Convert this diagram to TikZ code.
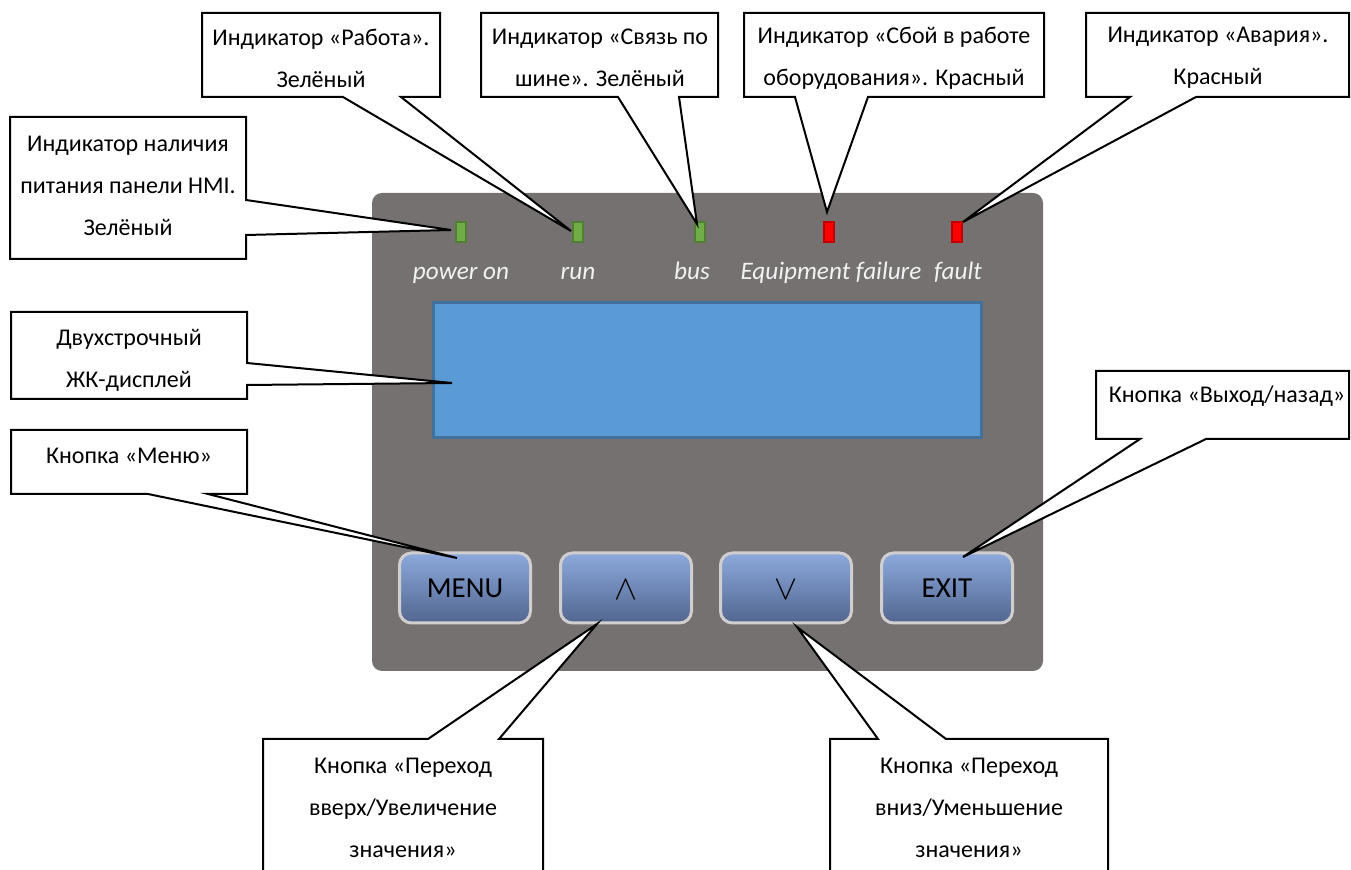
\documentclass[tikz,border=0pt]{standalone}
\usepackage{fontspec}
\setmainfont{Carlito}
\definecolor{panelgray}{HTML}{767171}
\definecolor{lcdfill}{HTML}{5B9BD5}
\definecolor{lcdborder}{HTML}{41719C}
\definecolor{ledgreen}{HTML}{70AD47}
\definecolor{ledgreenb}{HTML}{507E32}
\definecolor{ledred}{HTML}{FF0000}
\definecolor{ledredb}{HTML}{C00000}
\definecolor{labelwhite}{HTML}{F2F2F2}
\definecolor{btntop}{HTML}{8CA9DD}
\definecolor{btnbot}{HTML}{52668F}
\definecolor{btnborder}{HTML}{D0CECE}
\begin{document}
\begin{tikzpicture}[x=0.5pt,y=-0.5pt,
  callout/.style={draw=black,line width=1pt,fill=white,line join=miter},
  ctext/.style={font=\fontsize{12}{21}\selectfont,align=center,inner sep=0pt,text=black},
  ledg/.style={draw=ledgreenb,fill=ledgreen,line width=1pt,minimum width=5pt,minimum height=10pt,inner sep=0pt},
  ledr/.style={draw=ledredb,fill=ledred,line width=1pt,minimum width=5pt,minimum height=10pt,inner sep=0pt},
  lbl/.style={font=\fontsize{12.6}{15}\selectfont\itshape,text=labelwhite,anchor=base,inner sep=0pt},
  btn/.style={draw=btnborder,line width=1.5pt,rounded corners=6pt,top color=btntop,bottom color=btnbot,minimum width=65.5pt,minimum height=35pt,inner sep=0pt,font=\fontsize{14.5}{16}\selectfont,text=black},
  arrowtxt/.style={font=\fontsize{19}{20}\selectfont},
  lcdbox/.style={draw=lcdborder,fill=lcdfill,line width=1.5pt,minimum width=274pt,minimum height=67.5pt,inner sep=0pt},
  panelbox/.style={fill=panelgray,rounded corners=5pt}
]
\useasboundingbox (0,0) rectangle (1351,870);
\clip (0,0) rectangle (1351,870);
\fill[white] (0,0) rectangle (1351,870);

% panel
\path[panelbox] (372,193) rectangle (1043,671);

% LCD
\node[lcdbox] (lcd) at (707,370.5) {};

% LEDs
\node[ledg] (pwr) at (461,232) {};
\node[ledg] (run) at (578,232) {};
\node[ledg] (bus) at (700,232) {};
\node[ledr] (fail) at (829,232) {};
\node[ledr] (flt) at (957,232) {};

% LED labels
\node[lbl] (lpwr) at (461,280) {power on};
\node[lbl] (lrun) at (578,280) {run};
\node[lbl] (lbus) at (692,280) {bus};
\node[lbl] (lfail) at (831,280) {Equipment failure};
\node[lbl] (lflt) at (958,280) {fault};

% buttons
\node[btn] (menu) at (465,588) {MENU};
\node[btn] (up) at (626,588) {};
\node[arrowtxt] (upsym) at (626,590) {$\wedge$};
\node[btn] (down) at (786,588) {};
\node[arrowtxt] (downsym) at (786,590) {$\vee$};
\node[btn] (exit) at (947,588) {EXIT};

% callouts
\draw[callout] (10,117) -- (246,117) -- (246,200) -- (451,230) -- (246,235) -- (246,259) -- (10,259) -- cycle;
\node[ctext] (c1) at (128,186) {Индикатор наличия\\питания панели HMI.\\Зелёный};

\draw[callout] (202,13) -- (440,13) -- (440,97) -- (401,97) -- (571,231) -- (343,97) -- (202,97) -- cycle;
\node[ctext] (c2) at (321,58) {Индикатор «Работа».\\Зелёный};

\draw[callout] (481,13) -- (718,13) -- (718,97) -- (679,97) -- (697,224) -- (618,97) -- (481,97) -- cycle;
\node[ctext] (c3) at (600,58) {Индикатор «Связь по\\шине». Зелёный};

\draw[callout] (744,13) -- (1044,13) -- (1044,97) -- (868,97) -- (827,212) -- (795,97) -- (744,97) -- cycle;
\node[ctext] (c4) at (894,58) {Индикатор «Сбой в работе\\оборудования». Красный};

\draw[callout] (1086,13) -- (1349,13) -- (1349,97) -- (1196,97) -- (963,222) -- (1130,97) -- (1086,97) -- cycle;
\node[ctext] (c5) at (1218,58) {Индикатор «Авария».\\Красный};

\draw[callout] (11,312) -- (247,312) -- (247,363) -- (452,383) -- (247,385) -- (247,399) -- (11,399) -- cycle;
\node[ctext] (c6) at (129,360) {Двухстрочный\\ЖК-дисплей};

\draw[callout] (11,430) -- (247,430) -- (247,494) -- (208,494) -- (457,558) -- (148,494) -- (11,494) -- cycle;
\node[ctext] (c7) at (129,456) {Кнопка «Меню»};

\draw[callout] (1096,371) -- (1349,371) -- (1349,439) -- (1206,439) -- (963,557) -- (1140,439) -- (1096,439) -- cycle;
\node[ctext] (c8) at (1227,396) {Кнопка «Выход/назад»};

\draw[callout] (263,739) -- (428,739) -- (597,624) -- (499,739) -- (543,739) -- (543,880) -- (263,880) -- cycle;
\node[ctext] (c9) at (403,808) {Кнопка «Переход\\вверх/Увеличение\\значения»};

\draw[callout] (830,739) -- (878,739) -- (797,627) -- (946,739) -- (1108,739) -- (1108,880) -- (830,880) -- cycle;
\node[ctext] (c10) at (969,808) {Кнопка «Переход\\вниз/Уменьшение\\значения»};
\end{tikzpicture}
\end{document}
